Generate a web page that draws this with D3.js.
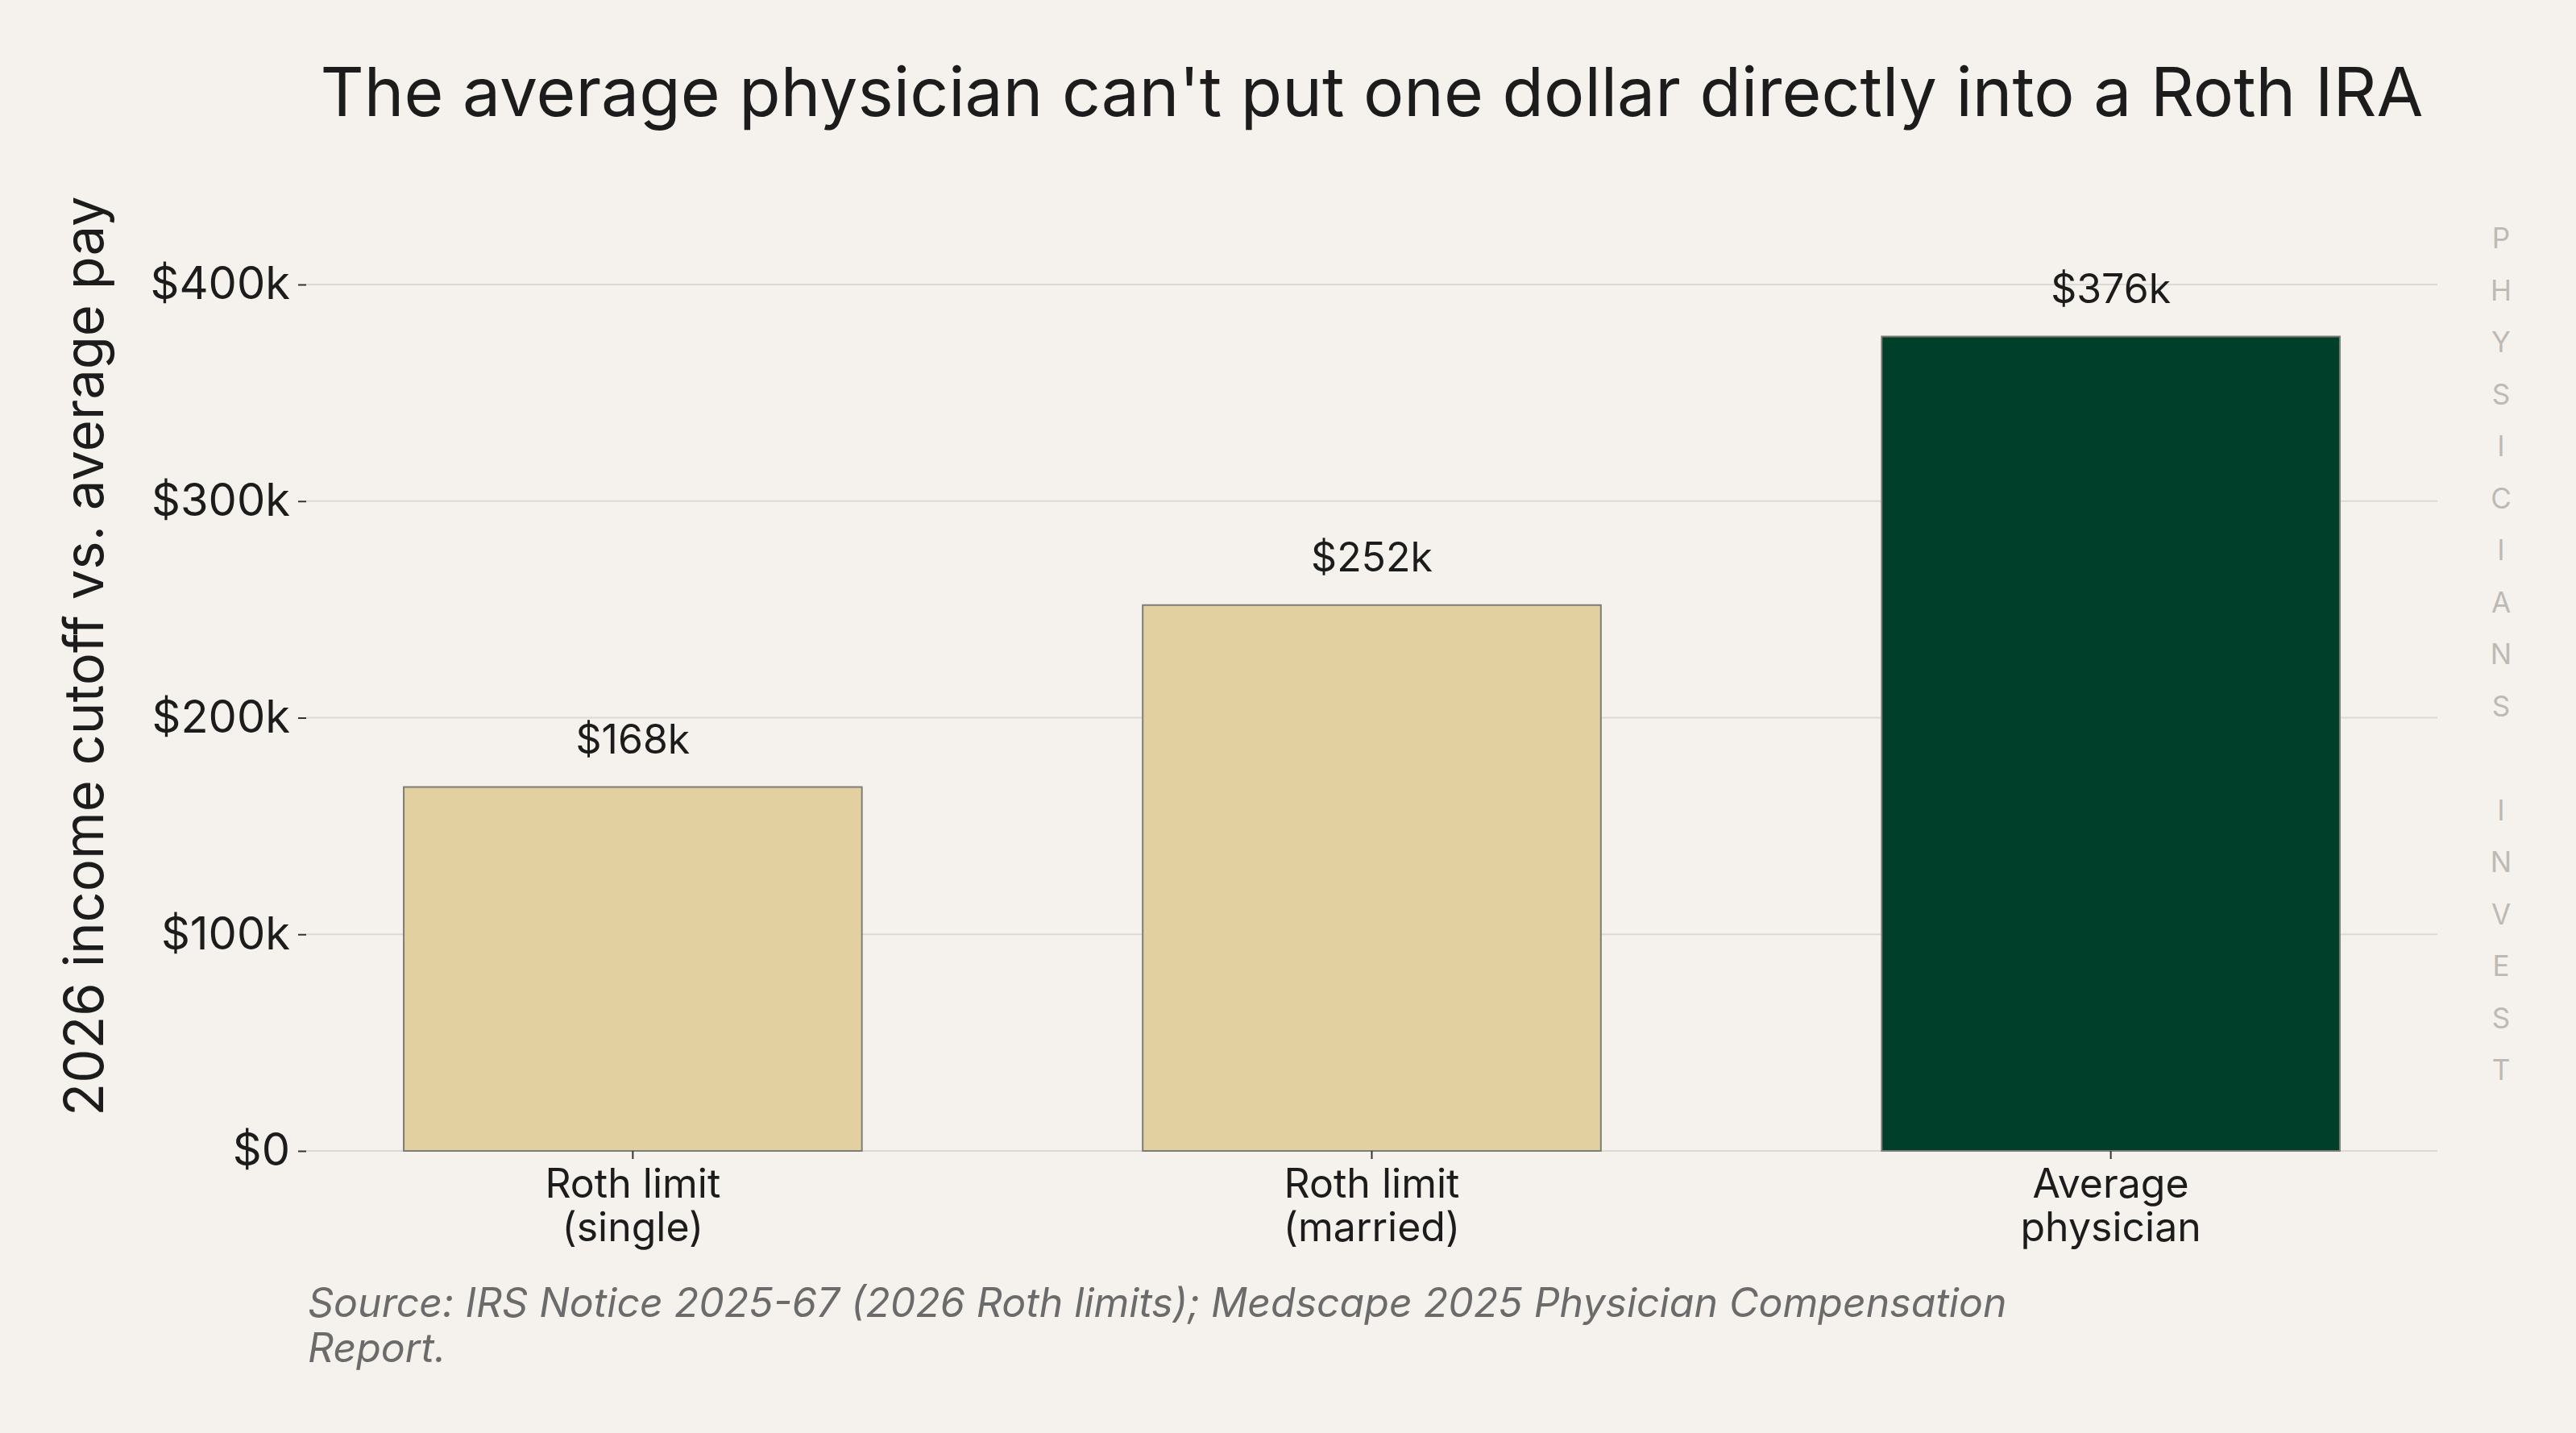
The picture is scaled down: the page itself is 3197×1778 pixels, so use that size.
<!DOCTYPE html>
<html>
<head>
<meta charset="utf-8">
<script src="https://cdn.jsdelivr.net/npm/d3@7"></script>
<style>
  html, body { margin: 0; padding: 0; background: #f5f2ed; }
  svg { display: block; font-family: Inter, "Noto Sans", sans-serif; }
</style>
</head>
<body>
<script>
var categories = [["Roth limit", "(single)"], ["Roth limit", "(married)"], ["Average", "physician"]];
var values = [168, 252, 376];           // $ thousands
var valueLabels = ["$168k", "$252k", "$376k"];
var yTicks = [0, 100, 200, 300, 400];
var yTickLabels = ["$0", "$100k", "$200k", "$300k", "$400k"];
var barColors = ["#e3d0a0", "#e3d0a0", "#00402a"];
var watermark = "PHYSICIANS INVEST";

var width = 3197, height = 1778;
var margin = {left: 380, right: 172, top: 240, bottom: 350};

var svg = d3.select("body").append("svg")
    .attr("width", width)
    .attr("height", height);

svg.append("rect").attr("width", width).attr("height", height).attr("fill", "#f5f2ed");

var x = d3.scaleBand()
    .domain(d3.range(values.length))
    .range([margin.left, width - margin.right])
    .paddingInner(0.38)
    .paddingOuter(0.132);

// y(0)=1428, y(400)=353
var y = d3.scaleLinear()
    .domain([0, 400])
    .range([1428, 353]);

// gridlines
svg.append("g")
  .selectAll("line")
  .data(yTicks)
  .enter().append("line")
    .attr("x1", margin.left)
    .attr("x2", width - margin.right)
    .attr("y1", function(d){ return y(d); })
    .attr("y2", function(d){ return y(d); })
    .attr("stroke", "#dcd9d3")
    .attr("stroke-width", 2);

// y axis
var yAxis = d3.axisLeft(y)
    .tickValues(yTicks)
    .tickFormat(function(d, i){ return yTickLabels[i]; })
    .tickSize(10)
    .tickPadding(10);

var yg = svg.append("g")
  .attr("transform", "translate(" + margin.left + ",0)")
  .call(yAxis);
yg.select(".domain").remove();
yg.selectAll(".tick line").attr("stroke", "#333").attr("stroke-width", 2);
yg.selectAll(".tick text")
  .attr("font-family", "Inter")
  .attr("font-size", 56)
  .attr("fill", "#1c1c1c");

// bars
svg.append("g")
  .selectAll("rect")
  .data(values)
  .enter().append("rect")
    .attr("x", function(d, i){ return x(i); })
    .attr("y", function(d){ return y(d); })
    .attr("width", x.bandwidth())
    .attr("height", function(d){ return y(0) - y(d); })
    .attr("fill", function(d, i){ return barColors[i]; })
    .attr("stroke", "#7d7d77")
    .attr("stroke-width", 2);

// value labels
svg.append("g")
  .selectAll("text")
  .data(values)
  .enter().append("text")
    .attr("x", function(d, i){ return x(i) + x.bandwidth() / 2; })
    .attr("y", function(d){ return y(d) - 42; })
    .attr("text-anchor", "middle")
    .attr("font-size", 50)
    .attr("fill", "#1c1c1c")
    .text(function(d, i){ return valueLabels[i]; });

// x axis
var xAxis = d3.axisBottom(x).tickSize(10).tickFormat("");
var xg = svg.append("g")
  .attr("transform", "translate(0," + y(0) + ")")
  .call(xAxis);
xg.select(".domain").remove();
xg.selectAll(".tick line").attr("stroke", "#333").attr("stroke-width", 2);

var xl = svg.append("g")
  .selectAll("text")
  .data(categories)
  .enter().append("text")
    .attr("x", function(d, i){ return x(i) + x.bandwidth() / 2; })
    .attr("y", 1486)
    .attr("text-anchor", "middle")
    .attr("font-size", 50)
    .attr("fill", "#1c1c1c");
xl.selectAll("tspan")
  .data(function(d){ return d; })
  .enter().append("tspan")
    .attr("x", function(){ return d3.select(this.parentNode).attr("x"); })
    .attr("dy", function(d, i){ return i === 0 ? 0 : 54; })
    .text(function(d){ return d; });

// y title
svg.append("text")
  .attr("transform", "translate(128,814) rotate(-90)")
  .attr("text-anchor", "middle")
  .attr("font-size", 67)
  .attr("fill", "#1c1c1c")
  .text("2026 income cutoff vs. average pay");

// title
svg.append("text")
  .attr("x", (margin.left + width - margin.right) / 2)
  .attr("y", 144)
  .attr("text-anchor", "middle")
  .attr("font-size", 84)
  .attr("fill", "#1c1c1c")
  .text("The average physician can't put one dollar directly into a Roth IRA");

// source
var src = svg.append("text")
  .attr("x", 382)
  .attr("y", 1634)
  .attr("font-size", 50)
  .attr("font-style", "italic")
  .attr("fill", "#6b6b6b");
src.append("tspan").attr("x", 382).attr("dy", 0)
  .text("Source: IRS Notice 2025-67 (2026 Roth limits); Medscape 2025 Physician Compensation");
src.append("tspan").attr("x", 382).attr("dy", 56).text("Report.");

// watermark
svg.append("g")
  .selectAll("text")
  .data(watermark.split(""))
  .enter().append("text")
    .attr("x", 3104)
    .attr("y", function(d, i){ return 296 + i * 64.5 + 12; })
    .attr("text-anchor", "middle")
    .attr("font-size", 35)
    .attr("fill", "#bdbab4")
    .text(function(d){ return d; });
</script>
</body>
</html>
